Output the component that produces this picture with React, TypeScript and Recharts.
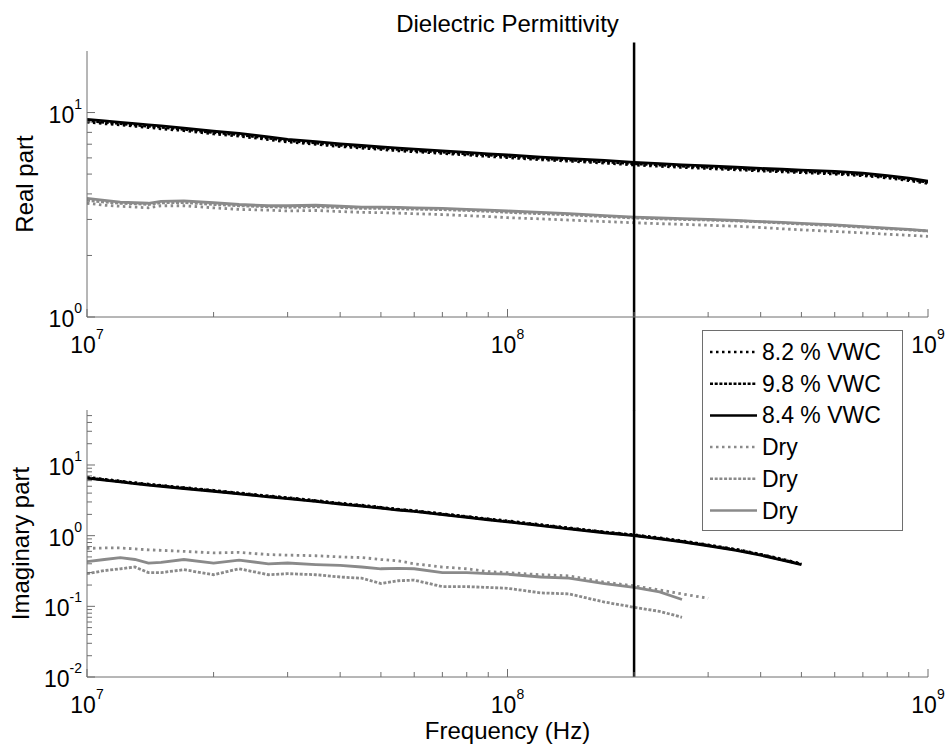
import React from 'react';
import { LineChart, Line, XAxis, YAxis, ReferenceLine, Legend } from 'recharts';

const FONT = '"Liberation Sans", Arial, Helvetica, sans-serif';
const AXIS_COLOR = '#6e6e6e';
const BLACK = '#000000';
const GRAY = '#8a8a8a';

// Frequency (Hz)
const freq = [1e7, 1.1e7, 1.2e7, 1.3e7, 1.4e7, 1.5e7, 1.7e7, 2e7, 2.3e7, 2.7e7, 3e7, 3.5e7, 4e7, 4.5e7, 5e7, 5.5e7, 6e7, 7e7, 8e7, 9e7,
  1e8, 1.2e8, 1.4e8, 1.7e8, 2e8, 2.3e8, 2.6e8, 3e8, 3.5e8, 4e8, 4.5e8, 5e8, 6e8, 7e8, 8e8, 9e8, 1e9];

// Real part
const real82 = [8.98, 8.82, 8.7, 8.57, 8.45, 8.33, 8.16, 7.86, 7.66, 7.38, 7.18, 6.99, 6.82, 6.7, 6.6, 6.5, 6.43, 6.31, 6.2, 6.1,
  6.02, 5.88, 5.78, 5.66, 5.54, 5.46, 5.39, 5.32, 5.25, 5.18, 5.13, 5.08, 5.0, 4.91, 4.79, 4.65, 4.5];
const real98 = [9.12, 8.96, 8.83, 8.69, 8.57, 8.47, 8.28, 7.98, 7.78, 7.49, 7.29, 7.09, 6.92, 6.8, 6.7, 6.6, 6.52, 6.4, 6.28, 6.19,
  6.11, 5.96, 5.86, 5.74, 5.62, 5.54, 5.47, 5.4, 5.32, 5.25, 5.2, 5.15, 5.07, 4.97, 4.85, 4.71, 4.56];
const real84 = [9.25, 9.1, 8.95, 8.82, 8.7, 8.6, 8.4, 8.1, 7.9, 7.6, 7.4, 7.2, 7.02, 6.9, 6.8, 6.7, 6.62, 6.5, 6.38, 6.28,
  6.2, 6.05, 5.95, 5.83, 5.7, 5.62, 5.55, 5.48, 5.4, 5.33, 5.28, 5.23, 5.15, 5.05, 4.92, 4.78, 4.62];
const realDry1 = [3.6, 3.52, 3.48, 3.45, 3.42, 3.5, 3.5, 3.42, 3.36, 3.33, 3.3, 3.32, 3.28, 3.25, 3.24, 3.22, 3.2, 3.17, 3.13, 3.1,
  3.06, 3.02, 2.98, 2.93, 2.89, 2.86, 2.84, 2.81, 2.78, 2.74, 2.7, 2.67, 2.62, 2.58, 2.54, 2.51, 2.48];
const realDry2 = [3.72, 3.65, 3.6, 3.58, 3.55, 3.62, 3.63, 3.55, 3.5, 3.46, 3.44, 3.46, 3.43, 3.4, 3.4, 3.38, 3.37, 3.35, 3.32, 3.29,
  3.25, 3.2, 3.16, 3.1, 3.05, 3.02, 3.0, 2.98, 2.95, 2.92, 2.88, 2.85, 2.8, 2.75, 2.7, 2.67, 2.63];
const realDry3 = [3.8, 3.72, 3.65, 3.62, 3.6, 3.68, 3.7, 3.62, 3.55, 3.5, 3.5, 3.52, 3.48, 3.45, 3.45, 3.44, 3.42, 3.4, 3.36, 3.33,
  3.3, 3.25, 3.2, 3.13, 3.08, 3.05, 3.03, 3.0, 2.97, 2.93, 2.9, 2.87, 2.82, 2.77, 2.72, 2.68, 2.64];

// Imaginary part
const imag82 = [6.7, 6.28, 5.92, 5.61, 5.36, 5.15, 4.79, 4.38, 4.02, 3.66, 3.45, 3.14, 2.88, 2.7, 2.52, 2.37, 2.27, 2.04, 1.87, 1.73,
  1.62, 1.43, 1.29, 1.13, 1.03, 0.93, 0.845, 0.74, 0.64, 0.545, 0.465, 0.4, null, null, null, null, null];
const imag98 = [6.6, 6.19, 5.84, 5.53, 5.28, 5.08, 4.72, 4.31, 3.96, 3.6, 3.4, 3.1, 2.84, 2.66, 2.49, 2.33, 2.23, 2.01, 1.85, 1.7,
  1.59, 1.41, 1.27, 1.12, 1.015, 0.915, 0.83, 0.73, 0.63, 0.54, 0.457, 0.395, null, null, null, null, null];
const imag84 = [6.5, 6.1, 5.75, 5.45, 5.2, 5.0, 4.65, 4.25, 3.9, 3.55, 3.35, 3.05, 2.8, 2.62, 2.45, 2.3, 2.2, 1.98, 1.82, 1.68,
  1.57, 1.39, 1.25, 1.1, 1.0, 0.9, 0.82, 0.72, 0.62, 0.53, 0.45, 0.39, null, null, null, null, null];
const imagDry1 = [0.66, 0.67, 0.67, 0.65, 0.63, 0.62, 0.6, 0.57, 0.58, 0.54, 0.53, 0.52, 0.5, 0.49, 0.46, 0.44, 0.4, 0.36, 0.34, 0.31,
  0.3, 0.28, 0.27, 0.22, 0.195, 0.17, 0.15, 0.13, null, null, null, null, null, null, null, null, null];
const imagDry2 = [0.29, 0.32, 0.34, 0.36, 0.3, 0.3, 0.33, 0.28, 0.34, 0.28, 0.29, 0.28, 0.26, 0.25, 0.21, 0.23, 0.235, 0.19, 0.19, 0.185,
  0.18, 0.155, 0.15, 0.115, 0.097, 0.085, 0.07, null, null, null, null, null, null, null, null, null, null];
const imagDry3 = [0.43, 0.46, 0.49, 0.46, 0.41, 0.42, 0.46, 0.41, 0.45, 0.4, 0.41, 0.39, 0.38, 0.36, 0.34, 0.345, 0.34, 0.3, 0.3, 0.29,
  0.285, 0.26, 0.25, 0.21, 0.185, 0.16, 0.125, null, null, null, null, null, null, null, null, null, null];

// Tick values
const xTicks = [1e7, 2e7, 3e7, 4e7, 5e7, 6e7, 7e7, 8e7, 9e7, 1e8, 2e8, 3e8, 4e8, 5e8, 6e8, 7e8, 8e8, 9e8, 1e9];
const realTicks = [1, 2, 3, 4, 5, 6, 7, 8, 9, 10];
const imagTicks = [0.01, 0.02, 0.03, 0.04, 0.05, 0.06, 0.07, 0.08, 0.09, 0.1, 0.2, 0.3, 0.4, 0.5, 0.6, 0.7, 0.8, 0.9,
  1, 2, 3, 4, 5, 6, 7, 8, 9, 10, 20, 30, 40, 50];
const markerFrequency = 2e8;

// Series meta
const seriesKeys = ['s82', 's98', 's84', 'dry1', 'dry2', 'dry3'];
const seriesNames = ['8.2 % VWC', '9.8 % VWC', '8.4 % VWC', 'Dry', 'Dry', 'Dry'];
const seriesColors = [BLACK, BLACK, BLACK, GRAY, GRAY, GRAY];
const seriesDash = ['2.5 3.5', '3 1.7', undefined, '2.5 3.5', '3 1.7', undefined];
const seriesWidth = [2.8, 2.8, 2.8, 2.8, 2.8, 2.8];

const realSeries = [real82, real98, real84, realDry1, realDry2, realDry3];
const imagSeries = [imag82, imag98, imag84, imagDry1, imagDry2, imagDry3];

const buildRows = (series: (number | null)[][]) =>
  freq.map((f, i) => {
    const row: any = { f };
    seriesKeys.forEach((k, j) => { row[k] = series[j][i]; });
    return row;
  });

const realRows = buildRows(realSeries);
const imagRows = buildRows(imagSeries);

const isMajor = (v: number) => Math.abs(Math.log10(v) - Math.round(Math.log10(v))) < 1e-6;
const expOf = (v: number) => {
  const e = Math.round(Math.log10(v));
  return e < 0 ? '-' + Math.abs(e) : String(e);
};

const MAJOR = 8;
const MINOR = 5;

const PowLabel = ({ x, y, v, anchor }: any) => (
  <text x={x} y={y} textAnchor={anchor} fontFamily={FONT} fontSize={23} fill="#000">
    <tspan>10</tspan>
    <tspan dy={-14} fontSize={14}>{expOf(v)}</tspan>
  </text>
);

const XTickBottom = (props: any) => {
  const { x, y, payload } = props;
  const v = payload.value;
  const major = isMajor(v);
  return (
    <g>
      <line x1={x} x2={x} y1={y} y2={y - (major ? MAJOR : MINOR)} stroke={AXIS_COLOR} strokeWidth={1} />
      {major && <PowLabel x={x} y={y + 36} v={v} anchor="middle" />}
    </g>
  );
};

const XTickTop = (props: any) => {
  const { x, y, payload } = props;
  const major = isMajor(payload.value);
  return <line x1={x} x2={x} y1={y} y2={y + (major ? MAJOR : MINOR)} stroke={AXIS_COLOR} strokeWidth={1} />;
};

const YTickLeft = (props: any) => {
  const { x, y, payload } = props;
  const v = payload.value;
  const major = isMajor(v);
  return (
    <g>
      <line x1={x} x2={x + (major ? MAJOR : MINOR)} y1={y} y2={y} stroke={AXIS_COLOR} strokeWidth={1} />
      {major && <PowLabel x={x - 5} y={y + 10} v={v} anchor="end" />}
    </g>
  );
};

const YTickRight = (props: any) => {
  const { x, y, payload } = props;
  const major = isMajor(payload.value);
  return <line x1={x} x2={x - (major ? MAJOR : MINOR)} y1={y} y2={y} stroke={AXIS_COLOR} strokeWidth={1} />;
};

const LegendBox = (props: any) => {
  const payload = [...(props.payload || [])].sort(
    (a: any, b: any) => seriesKeys.indexOf(a.dataKey) - seriesKeys.indexOf(b.dataKey)
  );
  return (
    <div style={{ width: 201, height: 201, border: `1px solid ${AXIS_COLOR}`, background: '#fff', boxSizing: 'border-box' }}>
      <svg width={199} height={199} style={{ display: 'block' }}>
        {payload.map((e: any, i: number) => {
          const cy = 21 + i * 31.7;
          const dash = e.payload && e.payload.strokeDasharray;
          return (
            <g key={i}>
              <line x1={7} x2={54} y1={cy} y2={cy} stroke={e.color} strokeWidth={2.5} strokeDasharray={dash} />
              <text x={59} y={cy + 8} fontFamily={FONT} fontSize={23} fill="#000">{e.value}</text>
            </g>
          );
        })}
      </svg>
    </div>
  );
};

const axisCommonX = {
  dataKey: 'f',
  type: 'number' as const,
  scale: 'log' as const,
  domain: [1e7, 1e9],
  allowDataOverflow: true,
  ticks: xTicks,
  interval: 0 as const,
  tickSize: 0,
  tickMargin: 0,
  tickLine: false,
  axisLine: { stroke: AXIS_COLOR, strokeWidth: 1 },
};

const renderLines = () =>
  seriesKeys.map((k, j) => (
    <Line
      key={k}
      dataKey={k}
      name={seriesNames[j]}
      type="linear"
      stroke={seriesColors[j]}
      strokeWidth={seriesWidth[j]}
      strokeDasharray={seriesDash[j]}
      dot={false}
      activeDot={false}
      connectNulls={false}
      isAnimationActive={false}
    />
  ));

export default function App() {
  const yReal = {
    type: 'number' as const,
    scale: 'log' as const,
    domain: [1, 20],
    allowDataOverflow: true,
    ticks: realTicks,
    interval: 0 as const,
    tickSize: 0,
    tickMargin: 0,
    tickLine: false,
    axisLine: { stroke: AXIS_COLOR, strokeWidth: 1 },
  };
  const yImag = { ...yReal, domain: [0.01, 60], ticks: imagTicks };

  return (
    <div style={{ position: 'absolute', left: 0, top: 0, width: 948, height: 744, background: '#fff', fontFamily: FONT }}>
      <svg width={948} height={744} style={{ position: 'absolute', left: 0, top: 0 }}>
        <text x={507.5} y={32} textAnchor="middle" fontFamily={FONT} fontSize={24} fill="#000">Dielectric Permittivity</text>
        <text transform="translate(33,184) rotate(-90)" textAnchor="middle" fontFamily={FONT} fontSize={24} fill="#000">Real part</text>
        <text transform="translate(29,543.5) rotate(-90)" textAnchor="middle" fontFamily={FONT} fontSize={24} fill="#000">Imaginary part</text>
        <text x={507.5} y={739} textAnchor="middle" fontFamily={FONT} fontSize={24} fill="#000">Frequency (Hz)</text>
      </svg>

      <div style={{ position: 'absolute', left: 0, top: 0 }}>
        <LineChart width={948} height={744} data={realRows} margin={{ top: 51, right: 20, bottom: 387, left: 0 }}>
          <XAxis {...axisCommonX} height={40} tick={<XTickBottom />} />
          <XAxis {...axisCommonX} xAxisId="top" orientation="top" height={0} tick={<XTickTop />} />
          <YAxis {...yReal} width={87} tick={<YTickLeft />} />
          <YAxis {...yReal} yAxisId="right" orientation="right" width={0} tick={<YTickRight />} />
          {renderLines()}
          <ReferenceLine
            segment={[{ x: markerFrequency, y: 0.35 }, { x: markerFrequency, y: 22 }]}
            stroke={BLACK}
            strokeWidth={2.5}
            ifOverflow="visible"
          />
        </LineChart>
      </div>

      <div style={{ position: 'absolute', left: 0, top: 0 }}>
        <LineChart width={948} height={744} data={imagRows} margin={{ top: 410, right: 20, bottom: 27, left: 0 }}>
          <XAxis {...axisCommonX} height={40} tick={<XTickBottom />} />
          <XAxis {...axisCommonX} xAxisId="top" orientation="top" height={0} tick={<XTickTop />} />
          <YAxis {...yImag} width={87} tick={<YTickLeft />} />
          <YAxis {...yImag} yAxisId="right" orientation="right" width={0} tick={<YTickRight />} />
          {renderLines()}
          <ReferenceLine x={markerFrequency} stroke={BLACK} strokeWidth={2.5} ifOverflow="visible" />
          <Legend
            layout="vertical"
            align="center"
            verticalAlign="middle"
            content={<LegendBox />}
            wrapperStyle={{ left: 702, top: 330, width: 201, height: 201 }}
          />
        </LineChart>
      </div>
    </div>
  );
}
